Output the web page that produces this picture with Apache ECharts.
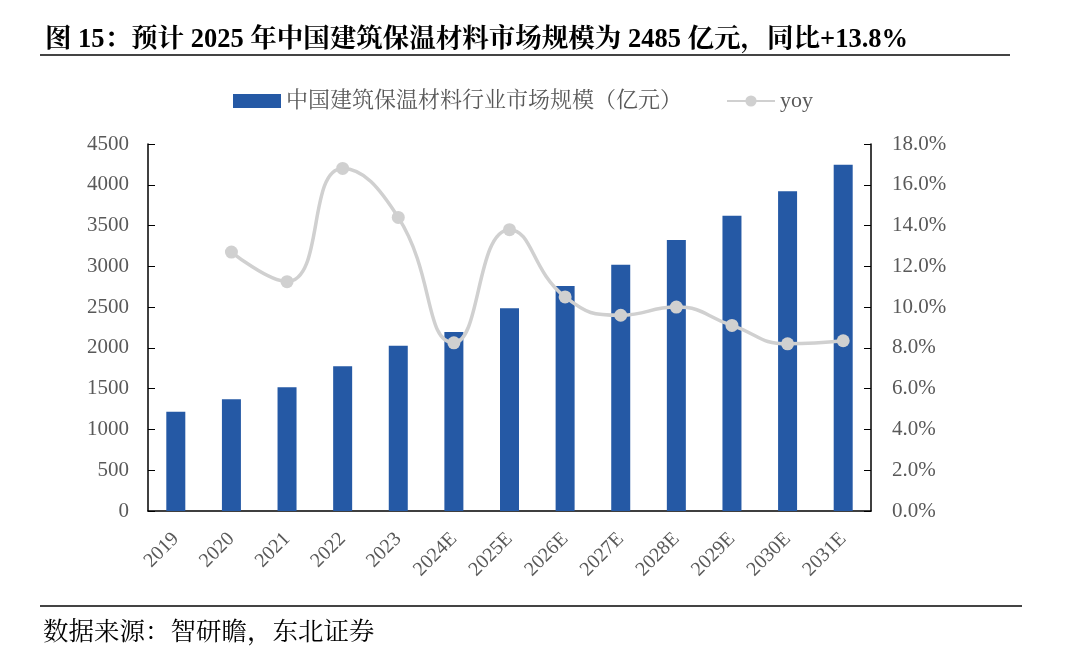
<!DOCTYPE html>
<html><head><meta charset="utf-8">
<script src="https://cdn.jsdelivr.net/npm/echarts@6/dist/echarts.min.js"></script>
<style>html,body{margin:0;padding:0;background:#fff}#c{width:1080px;height:659px}</style>
</head><body><div id="c"></div>
<script>
const categories = ['2019','2020','2021','2022','2023','2024E','2025E','2026E','2027E','2028E','2029E','2030E','2031E'];
const marketSize = [1217, 1369, 1516, 1774, 2027, 2195, 2485, 2759, 3020, 3323, 3621, 3920, 4246];
const yoy = [null, 12.7, 11.25, 16.8, 14.4, 8.25, 13.8, 10.5, 9.6, 10.0, 9.1, 8.2, 8.35];
const leftTicks = {min: 0, max: 4500, interval: 500};
const rightTicks = {min: 0, max: 18, interval: 2};
const titleText = '图 15：预计 2025 年中国建筑保温材料市场规模为 2485 亿元，同比+13.8%';
const sourceText = '数据来源：智研瞻，东北证券';
const barName = '中国建筑保温材料行业市场规模（亿元）';
const lineName = 'yoy';

const serif = '"Liberation Serif", "Noto Serif CJK SC", "Noto Sans CJK SC", serif';
const chart = echarts.init(document.getElementById('c'));
chart.setOption({
  animation: false,
  backgroundColor: '#fff',
  title: [
    {text: titleText, left: 40, top: 22, textStyle: {fontFamily: serif, fontSize: 26.5, fontWeight: 'bold', color: '#000'}},
    {text: sourceText, left: 38, top: 616, textStyle: {fontFamily: serif, fontSize: 25.5, fontWeight: 'normal', color: '#000'}}
  ],
  graphic: [
    {type: 'line', shape: {x1: 40, y1: 55, x2: 1010, y2: 55}, style: {stroke: '#444', lineWidth: 2}},
    {type: 'line', shape: {x1: 40, y1: 606, x2: 1022, y2: 606}, style: {stroke: '#444', lineWidth: 2}}
  ],
  legend: {
    top: 85, left: 228, itemGap: 44,
    itemWidth: 48, itemHeight: 14,
    textStyle: {fontFamily: serif, fontSize: 22, color: '#595959'},
    data: [
      {name: barName, icon: 'rect'},
      {name: lineName}
    ]
  },
  grid: {left: 148, right: 209, top: 144, bottom: 148},
  xAxis: {
    type: 'category', data: categories,
    axisLine: {lineStyle: {color: '#000', width: 1.5}},
    axisTick: {show: false},
    axisLabel: {rotate: 45, fontFamily: serif, fontSize: 20, color: '#595959', margin: 25}
  },
  yAxis: [
    {type: 'value', min: leftTicks.min, max: leftTicks.max, interval: leftTicks.interval,
     axisLine: {show: true, lineStyle: {color: '#000', width: 1.5}},
     axisTick: {show: true, inside: true, length: 7, lineStyle: {color: '#000'}},
     splitLine: {show: false},
     axisLabel: {fontFamily: serif, fontSize: 21, color: '#595959', margin: 19,
       formatter: v => String(v)}},
    {type: 'value', min: rightTicks.min, max: rightTicks.max, interval: rightTicks.interval,
     axisLine: {show: true, lineStyle: {color: '#000', width: 1.5}},
     axisTick: {show: true, inside: true, length: 7, lineStyle: {color: '#000'}},
     splitLine: {show: false},
     axisLabel: {fontFamily: serif, fontSize: 21, color: '#595959', margin: 21,
       formatter: v => v.toFixed(1) + '%'}}
  ],
  series: [
    {name: barName, type: 'bar', data: marketSize, barWidth: 19,
     itemStyle: {color: '#2559A5'}},
    {name: lineName, type: 'line', yAxisIndex: 1, data: yoy, smooth: 0.5,
     symbol: 'circle', symbolSize: 13, connectNulls: false,
     lineStyle: {color: '#D0D0D0', width: 3.5},
     itemStyle: {color: '#D0D0D0'}}
  ]
});
</script></body></html>
